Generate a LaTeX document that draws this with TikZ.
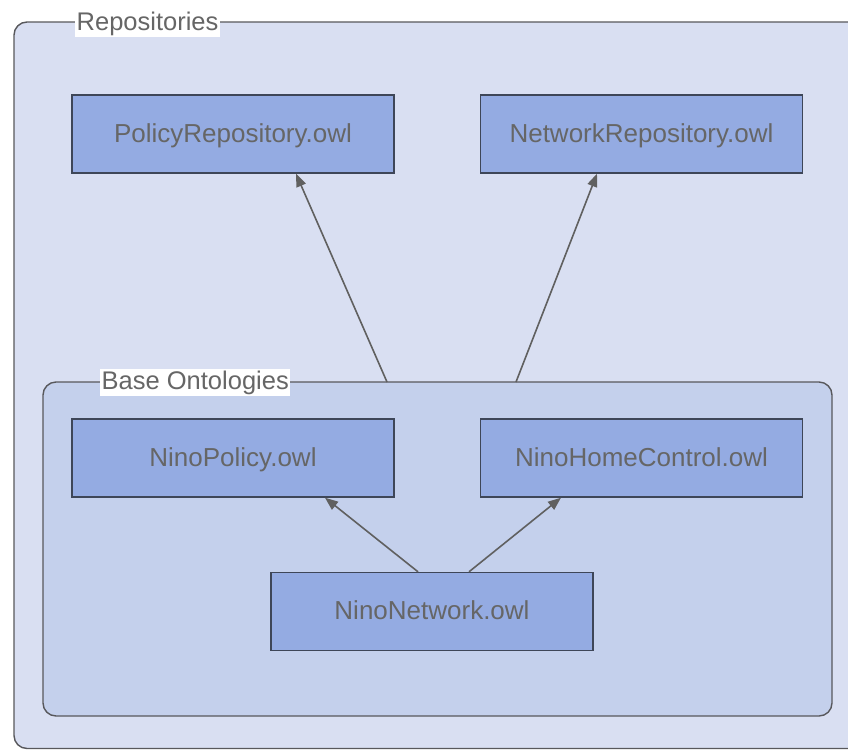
\documentclass[tikz,border=0pt]{standalone}
\usepackage{fontspec}
\setmainfont{Liberation Sans}
\usetikzlibrary{arrows.meta}
\definecolor{outerfill}{RGB}{217,223,242}
\definecolor{innerfill}{RGB}{196,208,236}
\definecolor{boxfill}{RGB}{148,171,226}
\definecolor{boxline}{RGB}{62,70,88}
\definecolor{frameline}{RGB}{88,88,92}
\definecolor{arrowgray}{RGB}{96,96,96}
\definecolor{textgray}{RGB}{102,102,102}
\tikzset{
  owlbox/.style={draw=boxline, line width=1.4pt, fill=boxfill,
    minimum width=322pt, minimum height=78pt, inner sep=0pt,
    text height=20pt, text depth=4pt,
    text=textgray, font=\fontsize{26}{30}\selectfont},
  group/.style={draw=frameline, line width=1.4pt, rounded corners=13pt},
  grouplabel/.style={fill=white, inner sep=1.5pt, text=textgray,
    font=\fontsize{25.5}{30}\selectfont, anchor=base west},
  link/.style={draw=arrowgray, line width=1.6pt,
    -{Triangle[length=13pt,width=10pt]}}
}
\begin{document}
\begin{tikzpicture}[x=1pt,y=-1pt]
\useasboundingbox (0,0) rectangle (848,750);
\clip (0,0) rectangle (848,750);
\fill[white] (0,0) rectangle (848,750);

% outer group: repositories
\draw[group, fill=outerfill] (14,22) rectangle (862,748.5);
\node[grouplabel] (replabel) at (75,30) {Repositories};

% inner group: base ontologies
\draw[group, fill=innerfill] (43,382) rectangle (832,716);
\node[grouplabel] (baselabel) at (100,389) {Base Ontologies};

% ontology boxes
\node[owlbox] (polrep) at (233,134) {PolicyRepository.owl};
\node[owlbox] (netrep) at (641.5,134) {NetworkRepository.owl};
\node[owlbox] (ninopol) at (233,458) {NinoPolicy.owl};
\node[owlbox] (ninohc) at (641.5,458) {NinoHomeControl.owl};
\node[owlbox] (ninonet) at (432,611.5) {NinoNetwork.owl};

% imports from the base group up to the repositories
\coordinate (baseA) at (387,382);
\coordinate (baseB) at (516,382);
\draw[link] (baseA) -- ([xshift=63pt]polrep.south);
\draw[link] (baseB) -- ([xshift=-44.5pt]netrep.south);

% imports inside the base group
\draw[link] ([xshift=-14pt]ninonet.north) -- ([xshift=92pt]ninopol.south);
\draw[link] ([xshift=37pt]ninonet.north) -- ([xshift=-80.5pt]ninohc.south);
\end{tikzpicture}
\end{document}
